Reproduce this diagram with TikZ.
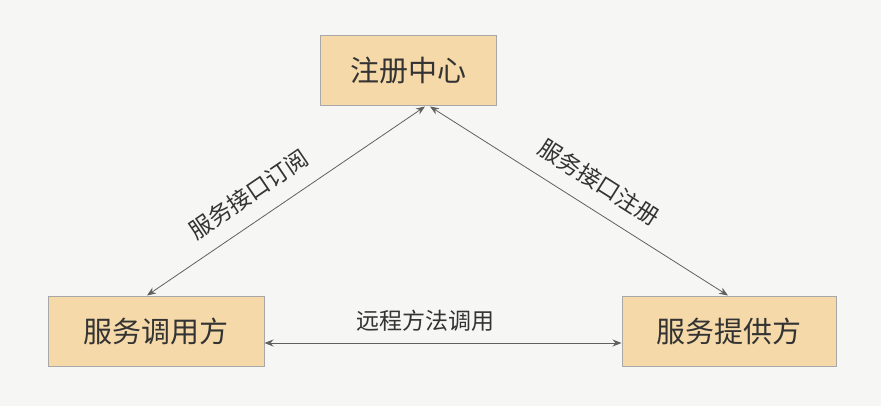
\documentclass[tikz,border=0pt]{standalone}
\usepackage{fontspec}
\setmainfont{Noto Sans CJK SC}
\usetikzlibrary{positioning, arrows.meta}
\definecolor{bgcol}{HTML}{F6F6F4}
\definecolor{boxfill}{HTML}{F5D9A8}
\definecolor{boxline}{HTML}{A8A8A8}
\definecolor{linecol}{HTML}{606060}
\definecolor{txtcol}{HTML}{333333}

\begin{document}
\begin{tikzpicture}[
    x=1pt, y=-1pt,
    >={Stealth[length=9pt, width=7pt]},
    % Styles
    role/.style={% For the three parties
        rectangle,
        draw=boxline,
        fill=boxfill,
        line width=1pt,
        minimum height=70pt,
        text=txtcol,
        font=\fontsize{29}{32}\selectfont,
        },
    link/.style={% Connectors between parties
        <->,
        draw=linecol,
        line width=0.8pt,
        },
    linklabel/.style={% Text along the connectors
        text=txtcol,
        font=\fontsize{23}{25}\selectfont,
        },
    ]
    \fill[bgcol] (0,0) rectangle (881,406);
    \useasboundingbox (0,0) rectangle (881,406);

    % Draw the parties
    \node [role, minimum width=176pt] (registry) at (408,71) {注册中心};
    \node [role, minimum width=216pt] (consumer) at (156,331) {服务调用方};
    \node [role, minimum width=214pt] (provider) at (729,331) {服务提供方};

    % Connect them
    \draw [link] ([xshift=-9pt]consumer.north) -- ([xshift=17pt]registry.south)
        node [linklabel, pos=0.42, sloped, above=12pt] {服务接口订阅};
    \draw [link] ([xshift=22pt]registry.south) -- ([xshift=-1pt]provider.north)
        node [linklabel, pos=0.52, sloped, above=12pt] {服务接口注册};
    \draw [link] ([yshift=-12pt]consumer.east) -- ([yshift=-12pt]provider.west)
        node [linklabel, pos=0.45, above=8pt] {远程方法调用};
\end{tikzpicture}
\end{document}
